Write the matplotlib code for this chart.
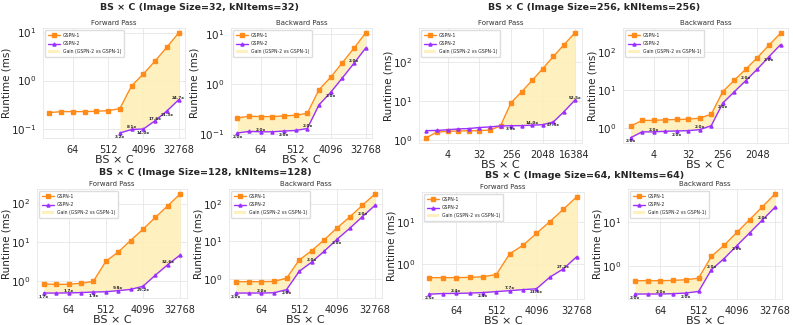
import numpy as np
import matplotlib.pyplot as plt
import seaborn as sns
from matplotlib.ticker import FixedLocator, FixedFormatter, NullLocator

sns.set_style('whitegrid')
plt.rcParams['font.family'] = ['DejaVu Sans']

nan = np.nan

# BS x C values on the x axis
bsc_16_32768 = [16, 32, 64, 128, 256, 512, 1024, 2048, 4096, 8192, 16384, 32768]
bsc_1_16384 = [1, 2, 4, 8, 16, 32, 64, 128, 256, 512, 1024, 2048, 4096, 8192, 16384]
bsc_1_8192 = [1, 2, 4, 8, 16, 32, 64, 128, 256, 512, 1024, 2048, 4096, 8192]

# Image Size=32, kNItems=32 (runtime in ms)
is32_fwd_gspn1 = [0.215, 0.226, 0.226, 0.226, 0.229, 0.237, 0.26, 0.78, 1.37, 2.56, 4.94, 9.8]
is32_fwd_gspn2 = [nan, nan, nan, nan, nan, nan, 0.081, 0.096, 0.098, 0.1455, 0.232, 0.397]
is32_bwd_gspn1 = [0.21, 0.226, 0.223, 0.223, 0.23, 0.237, 0.259, 0.765, 1.35, 2.63, 5.12, 10.3]
is32_bwd_gspn2 = [0.105, 0.113, 0.111, 0.111, 0.115, 0.118, 0.129, 0.382, 0.675, 1.31, 2.56, 5.15]

# Image Size=256, kNItems=256
is256_fwd_gspn1 = [1.16, 1.63, 1.69, 1.72, 1.76, 1.76, 1.83, 2.33, 9.2, 17.5, 34.2, 68.7, 140, 280, 550]
is256_fwd_gspn2 = [1.76, 1.79, 1.86, 1.95, 2.0, 2.12, 2.2, 2.33, 2.36, 2.37, 2.44, 2.51, 2.96, 5.4, 10.48]
is256_bwd_gspn1 = [1.10, 1.57, 1.57, 1.63, 1.66, 1.69, 1.80, 2.28, 8.98, 17.8, 35.0, 70.0, 148, 305]
is256_bwd_gspn2 = [0.55, 0.785, 0.785, 0.815, 0.83, 0.845, 0.90, 1.14, 4.49, 8.9, 17.5, 35.0, 74, 152.5]

# Image Size=128, kNItems=128
is128_fwd_gspn1 = [0.86, 0.83, 0.84, 0.89, 1.0, 3.26, 5.65, 11.2, 21.8, 44, 87.6, 176]
is128_fwd_gspn2 = [0.50, 0.50, 0.504, 0.514, 0.53, 0.54, 0.577, 0.62, 0.747, 1.44, 2.69, 4.76]
is128_bwd_gspn1 = [0.86, 0.86, 0.86, 0.874, 1.06, 3.22, 5.72, 11.2, 22.9, 44.6, 90.8, 181]
is128_bwd_gspn2 = [0.43, 0.43, 0.43, 0.437, 0.53, 1.61, 2.86, 5.6, 11.45, 22.3, 45.4, 90.5]

# Image Size=64, kNItems=64
is64_fwd_gspn1 = [0.467, 0.467, 0.467, 0.475, 0.49, 0.555, 1.75, 2.83, 5.45, 10.5, 20.6, 41.4]
is64_fwd_gspn2 = [0.187, 0.193, 0.195, 0.198, 0.204, 0.215, 0.227, 0.24, 0.252, 0.48, 0.757, 1.49]
is64_bwd_gspn1 = [0.472, 0.472, 0.472, 0.48, 0.496, 0.54, 1.68, 3.0, 5.87, 11.4, 22.3, 43.6]
is64_bwd_gspn2 = [0.236, 0.236, 0.236, 0.24, 0.248, 0.27, 0.84, 1.5, 2.935, 5.7, 11.15, 21.8]

ticks_a = [64, 512, 4096, 32768]
ticks_b = [4, 32, 256, 2048, 16384]
ticks_c = [4, 32, 256, 2048]

W, H = 793, 325
fig = plt.figure(figsize=(W / 100, H / 100), dpi=100)

C1 = '#ff8c1a'
C2 = '#9b30ff'
CF = '#fff0b8'


def box(l, r, t, b):
    return [l / W, 1 - b / H, (r - l) / W, (b - t) / H]


def panel(pos, title, x, g1, g2, ticks, step):
    ax = fig.add_axes(box(*pos))
    x = np.array(x, dtype=float)
    g1 = np.array(g1, dtype=float)
    g2 = np.array(g2, dtype=float)
    ax.plot(x, g1, color=C1, marker='s', ms=2.2, lw=1.0, label='GSPN-1')
    ax.plot(x, g2, color=C2, marker='^', ms=2.2, lw=1.0, label='GSPN-2')
    ok = ~np.isnan(g2)
    ax.fill_between(x[ok], g1[ok], g2[ok], where=g1[ok] >= g2[ok], interpolate=True,
                    color=CF, alpha=0.9, lw=0, label='Gain (GSPN-2 vs GSPN-1)')
    for i in range(0, len(x), step):
        if not ok[i]:
            continue
        gain = g1[i] / g2[i]
        if gain <= 1:
            continue
        dy = -2.6 if (i // step) % 2 == 0 else 1.6
        ax.annotate(f'{gain:.1f}x', (x[i], g2[i]), xytext=(0, dy), textcoords='offset points',
                    ha='center', va='center', fontsize=3.0, fontweight='bold', color='#222222')
    ax.set_xscale('log', base=2)
    ax.set_yscale('log')
    ax.xaxis.set_major_locator(FixedLocator(ticks))
    ax.xaxis.set_major_formatter(FixedFormatter([str(t) for t in ticks]))
    ax.xaxis.set_minor_locator(NullLocator())
    ax.yaxis.set_minor_locator(NullLocator())
    ax.tick_params(axis='x', labelsize=7, pad=1.5)
    ax.tick_params(axis='y', labelsize=7.5, pad=1.2)
    ax.set_title(title, fontsize=5, pad=2, color='#333333')
    ax.set_xlabel('BS × C', fontsize=8, labelpad=0)
    ax.set_ylabel('Runtime (ms)', fontsize=7.5, labelpad=0)
    ax.grid(True, color='#e6e6e6', lw=0.6)
    for s in ax.spines.values():
        s.set_color('#e6e6e6')
        s.set_linewidth(0.6)
    ax.legend(loc='upper left', fontsize=3.3, frameon=True, borderpad=0.6,
              handlelength=2.5, labelspacing=0.7, framealpha=1, edgecolor='#dddddd')
    return ax


# top left: Image Size=32
panel((43, 185, 28, 138), 'Forward Pass', bsc_16_32768, is32_fwd_gspn1, is32_fwd_gspn2, ticks_a, 1)
panel((231, 372, 28, 138), 'Backward Pass', bsc_16_32768, is32_bwd_gspn1, is32_bwd_gspn2, ticks_a, 2)
# top right: Image Size=256
panel((419, 582, 28, 143), 'Forward Pass', bsc_1_16384, is256_fwd_gspn1, is256_fwd_gspn2, ticks_b, 2)
panel((623, 788, 28, 143), 'Backward Pass', bsc_1_8192, is256_bwd_gspn1, is256_bwd_gspn2, ticks_c, 2)
# bottom left: Image Size=128
panel((37, 187, 189, 298), 'Forward Pass', bsc_16_32768, is128_fwd_gspn1, is128_fwd_gspn2, ticks_a, 2)
panel((229, 382, 189, 298), 'Backward Pass', bsc_16_32768, is128_bwd_gspn1, is128_bwd_gspn2, ticks_a, 2)
# bottom right: Image Size=64
panel((422, 584, 192, 299), 'Forward Pass', bsc_16_32768, is64_fwd_gspn1, is64_fwd_gspn2, ticks_a, 2)
panel((628, 782, 189, 299), 'Backward Pass', bsc_16_32768, is64_bwd_gspn1, is64_bwd_gspn2, ticks_a, 2)

sup = dict(fontsize=6.8, fontweight='bold', ha='center', va='center')
fig.text(199 / W, 1 - 7 / H, 'BS × C (Image Size=32, kNItems=32)', **sup)
fig.text(594 / W, 1 - 7 / H, 'BS × C (Image Size=256, kNItems=256)', **sup)
fig.text(205 / W, 1 - 173 / H, 'BS × C (Image Size=128, kNItems=128)', **sup)
fig.text(585 / W, 1 - 175 / H, 'BS × C (Image Size=64, kNItems=64)', **sup)

fig.savefig('out.png', dpi=100)
